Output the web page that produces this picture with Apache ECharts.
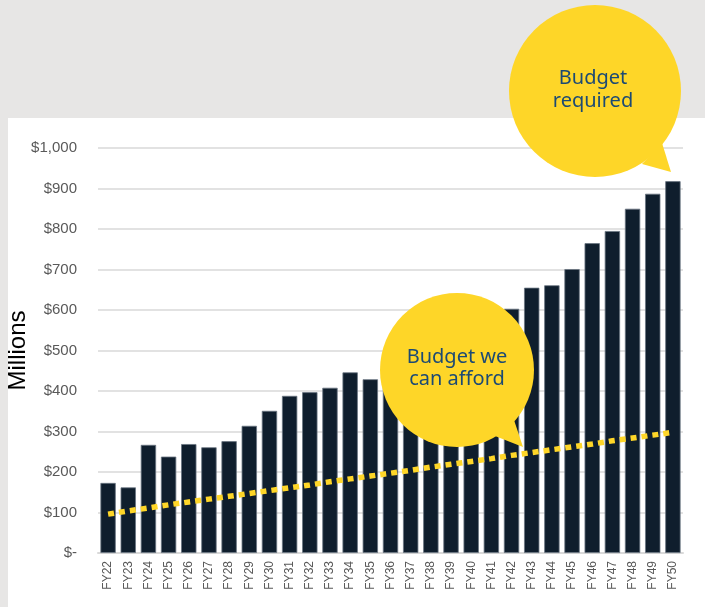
<!DOCTYPE html>
<html>
<head>
<meta charset="utf-8">
<script src="https://cdn.jsdelivr.net/npm/echarts@6/dist/echarts.min.js"></script>
<style>
  html, body { margin: 0; padding: 0; background: #E7E6E5; }
  #panel { position: absolute; left: 8px; top: 118px; width: 697px; height: 489px; background: #ffffff; }
  #chart { position: absolute; left: 0; top: 0; width: 705px; height: 607px; }
</style>
</head>
<body>
<div id="panel"></div>
<div id="chart"></div>
<script>
const categories = ['FY22','FY23','FY24','FY25','FY26','FY27','FY28','FY29','FY30','FY31',
  'FY32','FY33','FY34','FY35','FY36','FY37','FY38','FY39','FY40','FY41',
  'FY42','FY43','FY44','FY45','FY46','FY47','FY48','FY49','FY50'];
const budgetRequired = [173, 162, 267, 238, 269, 261, 276, 314, 351, 388,
  397, 408, 446, 429, 412, 455, 488, 515, 542, 572,
  603, 655, 661, 701, 765, 795, 850, 887, 918];
const budgetAfford = [96, 104, 111, 119, 126, 133, 140, 147, 154, 161,
  168, 176, 183, 190, 197, 204, 212, 219, 226, 233,
  241, 248, 255, 262, 269, 277, 284, 291, 298];
const yTickLabels = ['$-', '$100', '$200', '$300', '$400', '$500', '$600', '$700', '$800', '$900', '$1,000'];
const yAxisTitle = 'Millions';
const bubbleRequiredText = 'Budget\nrequired';
const bubbleAffordText = 'Budget we\ncan afford';

const chart = echarts.init(document.getElementById('chart'), null, { renderer: 'canvas' });
const yellow = '#FED628';
const textBlue = '#1C4A74';

chart.setOption({
  backgroundColor: 'transparent',
  animation: false,
  grid: { left: 98, right: 22, top: 148, bottom: 54, containLabel: false, outerBoundsMode: 'none' },
  xAxis: {
    type: 'category',
    data: categories,
    axisLine: { lineStyle: { color: '#d9d9d9', width: 2 } },
    axisTick: { show: false },
    axisLabel: { rotate: 90, fontSize: 12, color: '#595959', margin: 8, fontFamily: 'Liberation Sans, Arial, sans-serif', interval: 0 }
  },
  yAxis: {
    type: 'value',
    min: 0, max: 1000, interval: 100,
    name: yAxisTitle,
    nameLocation: 'middle',
    nameGap: 68,
    nameMoveOverlap: false,
    nameRotate: 90,
    nameTextStyle: { fontSize: 24, color: '#000000', fontFamily: 'Liberation Sans, Arial, sans-serif' },
    axisLine: { show: false },
    axisTick: { show: false },
    splitLine: { lineStyle: { color: '#d9d9d9', width: 1.5 } },
    axisLabel: {
      fontSize: 15, color: '#595959', margin: 21, fontFamily: 'Liberation Sans, Arial, sans-serif',
      formatter: function (v) { return yTickLabels[Math.round(v / 100)]; }
    }
  },
  series: [
    {
      type: 'bar',
      data: budgetRequired,
      barCategoryGap: '24%',
      itemStyle: { color: '#0F1E2D', borderColor: '#6a7582', borderWidth: 0.8 },
      z: 2
    },
    {
      type: 'line',
      data: budgetAfford,
      symbol: 'none',
      lineStyle: { color: yellow, width: 5.5, type: [6, 5] },
      z: 3
    }
  ],
  graphic: [
    { type: 'polygon', zlevel: 1, z: 100, shape: { points: [[495, 436], [514, 420], [523, 447]] }, style: { fill: yellow } },
    { type: 'circle', zlevel: 1, z: 100, shape: { cx: 457, cy: 370, r: 77 }, style: { fill: yellow } },
    { type: 'text', zlevel: 1, z: 101, style: { text: bubbleAffordText, x: 457, y: 368, textAlign: 'center', textVerticalAlign: 'middle',
        font: '20px "Noto Sans", "Open Sans", sans-serif', lineHeight: 22, fill: textBlue } },
    { type: 'polygon', zlevel: 1, z: 100, shape: { points: [[642, 164], [662, 143], [671, 172]] }, style: { fill: yellow } },
    { type: 'circle', zlevel: 1, z: 100, shape: { cx: 595, cy: 91, r: 86 }, style: { fill: yellow } },
    { type: 'text', zlevel: 1, z: 101, style: { text: bubbleRequiredText, x: 593, y: 90, textAlign: 'center', textVerticalAlign: 'middle',
        font: '20px "Noto Sans", "Open Sans", sans-serif', lineHeight: 23, fill: textBlue } }
  ]
});
</script>
</body>
</html>
